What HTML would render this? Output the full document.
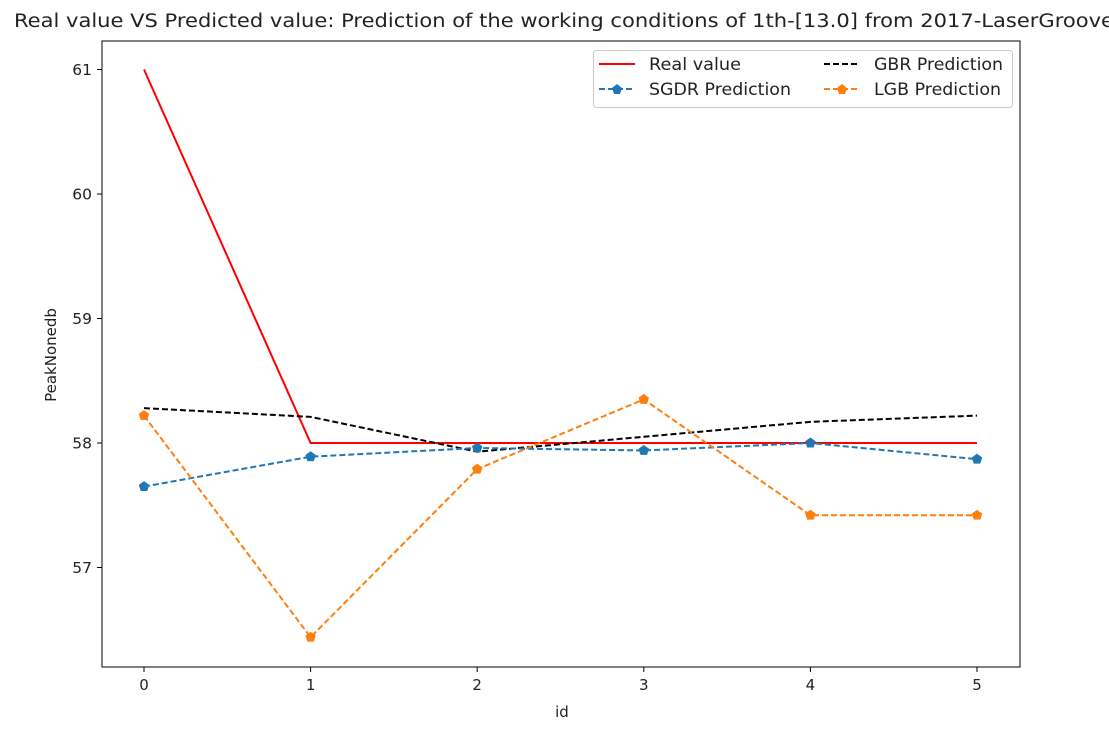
<!DOCTYPE html>
<html><head><meta charset="utf-8"><style>
body{margin:0;background:#fff;}
svg text{font-family:"DejaVu Sans","Liberation Sans",sans-serif;fill:#222;}
</style></head><body>
<svg width="1109" height="735">
<text x="14" y="27" font-size="18.5" textLength="1100" lengthAdjust="spacingAndGlyphs">Real value VS Predicted value: Prediction of the working conditions of 1th-[13.0] from 2017-LaserGroove</text>
<g id="plot"></g>
<text x="562" y="717" font-size="15" text-anchor="middle">id</text>
<text x="0" y="0" font-size="15" text-anchor="middle" transform="translate(56,355) rotate(-90)">PeakNonedb</text>
<g>
<rect x="593.5" y="50.5" width="419" height="57" rx="3" fill="#fff" stroke="#ccc"/>
<line x1="599" y1="64" x2="635" y2="64" stroke="red" stroke-width="2"/>
<text x="649" y="70" font-size="16.5" textLength="92" lengthAdjust="spacingAndGlyphs">Real value</text>
<line x1="824" y1="64" x2="860" y2="64" stroke="#000" stroke-width="2" stroke-dasharray="6,3"/>
<text x="874" y="70" font-size="16.5" textLength="129" lengthAdjust="spacingAndGlyphs">GBR Prediction</text>
<line x1="599" y1="89" x2="635" y2="89" stroke="#1f77b4" stroke-width="2" stroke-dasharray="6,3"/>
<polygon points="617,84 622,88 620,94 614,94 612,88" fill="#1f77b4"/>
<text x="649" y="95" font-size="16.5" textLength="142" lengthAdjust="spacingAndGlyphs">SGDR Prediction</text>
<line x1="824" y1="89" x2="860" y2="89" stroke="#ff7f0e" stroke-width="2" stroke-dasharray="6,3"/>
<polygon points="842,84 847,88 845,94 839,94 837,88" fill="#ff7f0e"/>
<text x="874" y="95" font-size="16.5" textLength="127" lengthAdjust="spacingAndGlyphs">LGB Prediction</text>
</g>
</svg>
<script>
const ids=[0,1,2,3,4,5];
const realVals=[61,58,58,58,58,58];
const gbrVals=[58.28,58.21,57.93,58.05,58.17,58.22];
const sgdrVals=[57.65,57.89,57.96,57.94,58.0,57.87];
const lgbVals=[58.22,56.44,57.79,58.35,57.42,57.42];
const yTicks=[57,58,59,60,61];
const NS="http://www.w3.org/2000/svg";
const L=102,R=1020,T=41,B=667;
const xs=v=>144+v*166.6;
const ys=v=>443-(v-58)*124.5;
const g=document.getElementById('plot');
function mk(t,a){const e=document.createElementNS(NS,t);for(const k in a)e.setAttribute(k,a[k]);g.appendChild(e);return e;}
function series(vals,color,dash,marker,name){
  const p=mk('polyline',{points:vals.map((v,i)=>xs(ids[i])+','+ys(v)).join(' '),fill:'none',stroke:color,'stroke-width':2,'stroke-dasharray':dash});
  
  
  if(marker)vals.forEach((v,i)=>{const cx=xs(ids[i]),cy=ys(v),r=5.5;
    const pts=[0,1,2,3,4].map(k=>{const a=-Math.PI/2+k*2*Math.PI/5;return (cx+r*Math.cos(a))+','+(cy+r*Math.sin(a));}).join(' ');
    const m=mk('polygon',{points:pts,fill:color});
    
    });
}
series(realVals,'red','none',false,'real');
series(gbrVals,'#000','6,3',false,'gbr');
series(sgdrVals,'#1f77b4','6,3',true,'sgdr');
series(lgbVals,'#ff7f0e','6,3',true,'lgb');
const fr=mk('rect',{x:L,y:T,width:R-L,height:B-T,fill:'none',stroke:'#000','stroke-width':1});


ids.forEach(v=>{mk('line',{x1:xs(v),x2:xs(v),y1:B,y2:B+5,stroke:'#000'});
  const t=mk('text',{x:xs(v),y:B+23,'font-size':15,'text-anchor':'middle'});t.textContent=v;
  
  });
yTicks.forEach(v=>{mk('line',{x1:L-5,x2:L,y1:ys(v),y2:ys(v),stroke:'#000'});
  const t=mk('text',{x:L-10,y:ys(v)+5.5,'font-size':15.5,'text-anchor':'end'});t.textContent=v;
  
  });
</script>
</body></html>
